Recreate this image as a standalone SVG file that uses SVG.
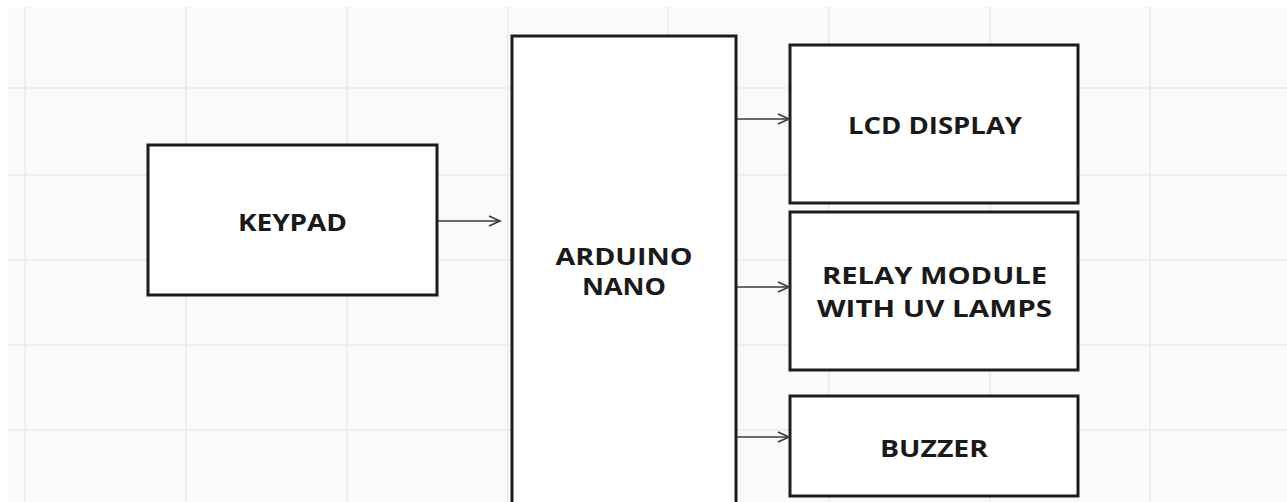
<svg xmlns="http://www.w3.org/2000/svg" width="1287" height="502" viewBox="0 0 1287 502">
<style>
.bg{fill:#fafafa}
.grid line{stroke:#eaeaea;stroke-width:1.5}
.box{fill:#ffffff;stroke:#1c1c1c;stroke-width:3}
.lbl{font-family:"Open Sans","Liberation Sans",sans-serif;font-weight:bold;font-size:24px;fill:#1a1a1a;text-anchor:middle}
.conn line{stroke:#3a3a3a;stroke-width:1.5;fill:none}
</style>
<defs>
<marker id="arr" markerWidth="14" markerHeight="12" refX="12" refY="6" orient="auto" markerUnits="userSpaceOnUse">
<path d="M1,1 L12,6 L1,11" fill="none" stroke="#3a3a3a" stroke-width="1.6"/>
</marker>
</defs>
<rect width="1287" height="502" fill="#ffffff"/>
<rect class="bg" x="8" y="7" width="1279" height="495"/>
<g class="grid">
<line x1="25" y1="7" x2="25" y2="502"/>
<line x1="186" y1="7" x2="186" y2="502"/>
<line x1="347" y1="7" x2="347" y2="502"/>
<line x1="508" y1="7" x2="508" y2="502"/>
<line x1="668" y1="7" x2="668" y2="502"/>
<line x1="829" y1="7" x2="829" y2="502"/>
<line x1="990" y1="7" x2="990" y2="502"/>
<line x1="1150" y1="7" x2="1150" y2="502"/>
<line x1="8" y1="88" x2="1287" y2="88"/>
<line x1="8" y1="175" x2="1287" y2="175"/>
<line x1="8" y1="260" x2="1287" y2="260"/>
<line x1="8" y1="345" x2="1287" y2="345"/>
<line x1="8" y1="430" x2="1287" y2="430"/>
</g>
<g id="keypad">
<rect class="box" x="148" y="145" width="289" height="150"/>
<text class="lbl" x="292.5" y="231" textLength="109" lengthAdjust="spacingAndGlyphs">KEYPAD</text>
</g>
<g id="arduino">
<rect class="box" x="512" y="36" width="224" height="480"/>
<text class="lbl" x="624" y="265" textLength="137" lengthAdjust="spacingAndGlyphs">ARDUINO</text>
<text class="lbl" x="624" y="295" textLength="84" lengthAdjust="spacingAndGlyphs">NANO</text>
</g>
<g id="lcd">
<rect class="box" x="790" y="45" width="288" height="158"/>
<text class="lbl" x="935" y="134" textLength="174" lengthAdjust="spacingAndGlyphs">LCD DISPLAY</text>
</g>
<g id="relay">
<rect class="box" x="790" y="212" width="288" height="158"/>
<text class="lbl" x="934.5" y="284" textLength="225" lengthAdjust="spacingAndGlyphs">RELAY MODULE</text>
<text class="lbl" x="934.5" y="317" textLength="235" lengthAdjust="spacingAndGlyphs">WITH UV LAMPS</text>
</g>
<g id="buzzer">
<rect class="box" x="790" y="396" width="288" height="100"/>
<text class="lbl" x="934" y="457" textLength="108" lengthAdjust="spacingAndGlyphs">BUZZER</text>
</g>
<g class="conn">
<line x1="438" y1="221" x2="500" y2="221" marker-end="url(#arr)"/>
<line x1="737" y1="119" x2="789" y2="119" marker-end="url(#arr)"/>
<line x1="737" y1="287" x2="789" y2="287" marker-end="url(#arr)"/>
<line x1="737" y1="437" x2="789" y2="437" marker-end="url(#arr)"/>
</g>
</svg>
